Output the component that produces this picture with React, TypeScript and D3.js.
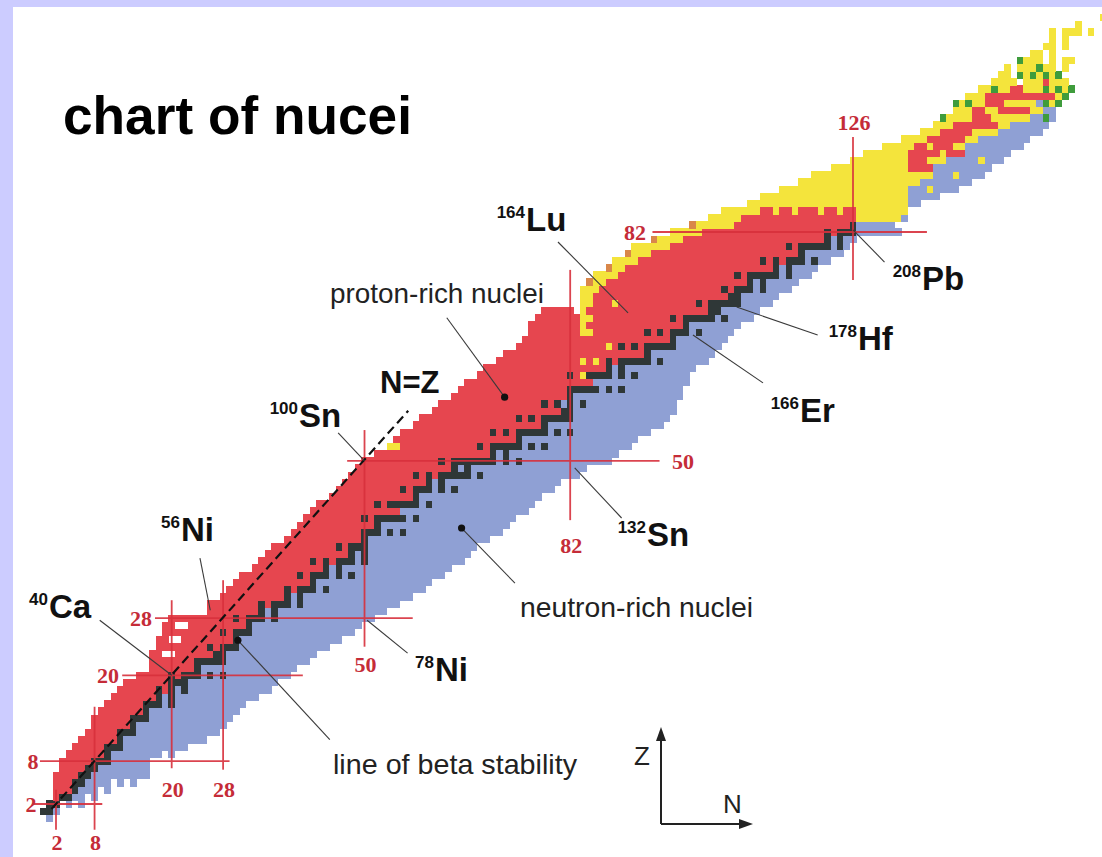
import * as d3 from 'd3';

// lightest / heaviest known neutron number for Z = 0..82
const firstN = [
  1, 0, 1, 2, 2, 2, 2, 3, 3, 4, 5, 6, 7, 8, 8, 9, 10, 11, 12, 13,
  15, 17, 17, 17, 18, 18, 19, 19, 20, 26, 26, 28, 29, 30, 31, 33, 34, 35, 36, 38,
  39, 40, 41, 42, 43, 45, 46, 47, 48, 49, 50, 52, 54, 55, 56, 58, 59, 61, 62, 64,
  65, 66, 68, 69, 71, 72, 74, 75, 76, 76, 77, 78, 84, 84, 84, 85, 86, 88, 89, 91,
  92, 95, 98,
];
const lastN = [
  1, 2, 6, 8, 10, 14, 16, 16, 16, 20, 22, 25, 27, 28, 29, 30, 31, 33, 35, 36,
  38, 39, 41, 42, 44, 46, 48, 49, 51, 53, 55, 57, 59, 60, 62, 63, 65, 66, 67, 69,
  71, 72, 73, 75, 76, 77, 79, 80, 83, 84, 88, 89, 91, 92, 94, 96, 97, 98, 98, 99,
  99, 100, 100, 101, 103, 104, 105, 106, 107, 108, 110, 111, 113, 114, 116, 117, 119, 120, 122, 124,
  125, 126, 133,
];

// stable neutron numbers for Z = 0..82
const stableN: number[][] = [
  [], [0, 1], [1, 2], [3, 4], [5], [5, 6], [6, 7], [7, 8], [8, 9, 10], [10],
  [10, 11, 12], [12], [12, 13, 14], [14], [14, 15, 16], [16], [16, 17, 18, 20], [18, 20], [18, 20, 22], [20, 21, 22],
  [20, 22, 23, 24, 26, 28], [24], [24, 25, 26, 27, 28], [27, 28], [26, 28, 29, 30], [30], [28, 30, 31, 32], [32], [30, 32, 33, 34, 36], [34, 36],
  [34, 36, 37, 38, 40], [38, 40], [38, 40, 41, 42, 44], [42], [40, 42, 43, 44, 46, 48], [44, 46], [42, 44, 46, 47, 48, 50], [48, 50], [46, 48, 49, 50], [50],
  [50, 51, 52, 54, 56], [52], [50, 52, 53, 54, 55, 56, 58], [], [52, 54, 55, 56, 57, 58, 60], [58], [56, 58, 59, 60, 62, 64], [60, 62], [58, 60, 62, 63, 64, 65, 66, 68], [64, 66],
  [62, 64, 65, 66, 67, 68, 69, 70, 72, 74], [70, 72], [68, 70, 71, 72, 73, 74, 76, 78], [74], [70, 72, 74, 75, 76, 77, 78, 80, 82], [78], [74, 76, 78, 79, 80, 81, 82], [81, 82], [78, 80, 82, 84], [82],
  [82, 83, 84, 85, 86, 88, 90], [], [82, 85, 86, 87, 88, 90, 92], [88, 90], [88, 90, 91, 92, 93, 94, 96], [94], [90, 92, 94, 95, 96, 97, 98], [98], [94, 96, 98, 99, 100, 102], [100],
  [98, 100, 101, 102, 103, 104, 106], [104, 105], [102, 104, 105, 106, 107, 108], [107, 108], [106, 108, 109, 110, 112], [110, 112], [108, 110, 111, 112, 113, 114, 116], [114, 116], [112, 114, 116, 117, 118, 120], [118],
  [116, 118, 119, 120, 121, 122, 124], [122, 124], [122, 124, 125, 126],
];

// rows without a stable isotope: [Z, last beta+ N]
const noStableSplit = [[0, -1], [43, 55], [61, 85]];

// alpha emitters [Z, from N, to N]
const alphaRuns = [
  [52, 54, 55], [62, 84, 84], [64, 84, 84], [64, 86, 86], [66, 88, 88], [72, 89, 89],
  [68, 84, 85], [69, 84, 84], [70, 84, 85], [71, 84, 84], [72, 84, 85], [73, 84, 85],
  [74, 84, 86], [75, 86, 87], [76, 86, 89], [77, 89, 90], [78, 89, 92], [79, 92, 94],
  [80, 92, 97], [81, 96, 99], [82, 98, 102],
];
// proton emitters
const protonRuns = [[75, 85, 85], [77, 88, 88], [79, 91, 91], [81, 95, 95], [83, 101, 101]];
// unknown holes
const gapRuns = [
  [2, 3, 3], [2, 5, 5], [3, 7, 7], [4, 9, 9], [5, 11, 11], [5, 13, 13], [9, 19, 19],
  [23, 19, 20], [25, 20, 21], [27, 21, 22], [71, 83, 83],
];

// heavy elements: [Z, first N, runs] y=alpha r=beta+ b=beta- k=stable g=fission w=hole
const heavyRows: [number, number, string][] = [
  [83, 101, 'y7r18k1b6'],
  [84, 104, 'y5r18y7b1'],
  [85, 106, 'y6r2y1r2y1r3y1r2y1r2y8'],
  [86, 110, 'y25b2'],
  [87, 112, 'y23b5'],
  [88, 115, 'y20b3y1b4'],
  [89, 118, 'y19b8'],
  [90, 120, 'y19b3y1b4'],
  [91, 123, 'y12r4b9'],
  [92, 126, 'y9r3y3b5y1b3'],
  [93, 128, 'y7r5y1r3b7'],
  [94, 131, 'y5r2y1r3y2b9'],
  [95, 134, 'y4r6y2b8'],
  [96, 137, 'y3r5y4b7'],
  [97, 139, 'y3r7y2b6'],
  [98, 140, 'g1y4r3y6b2g1b1'],
  [99, 142, 'y3r2y2r5y2b2'],
  [100, 142, 'g1y1g1y2r3y5b1g1y1g1'],
  [101, 144, 'y3r11y1g1'],
  [102, 146, 'y2g1y2r2y3g1y1g1y1g1'],
  [103, 148, 'y4w1y3r1y3'],
  [104, 149, 'y2w1g1y1g1y1g1y1g1'],
  [105, 150, 'y1w1y3g1y2w1y1'],
  [106, 152, 'g1y3w1y1w1y2'],
  [107, 154, 'y2w1y1'],
  [108, 156, 'y2w1y1'],
  [109, 157, 'y1w1y1'],
  [110, 157, 'y1w1y3w1y1'],
  [111, 161, 'y1'],
  [112, 165, 'y1'],
];

const magicNumbers = [2, 8, 20, 28, 50, 82, 126];

const cellColor: Record<string, string> = {
  r: '#e6464f',
  b: '#8fa0d4',
  k: '#2f3737',
  y: '#f4e43c',
  g: '#3f9c3c',
  o: '#d9874a',
};

type Cell = { z: number; n: number; c: string };

function buildCells(): Cell[] {
  const map = new Map<string, Cell>();
  const put = (z: number, n: number, c: string) => map.set(z + ':' + n, { z, n, c });
  firstN.forEach((n0, z) => {
    const st = stableN[z] || [];
    const ov = noStableSplit.find((d) => d[0] === z);
    const mid = st.length ? (st[0] + st[st.length - 1]) / 2 : (ov ? ov[1] + 0.5 : 0);
    for (let n = n0; n <= lastN[z]; n++) {
      if (st.includes(n)) put(z, n, 'k');
      else put(z, n, n < mid ? 'r' : 'b');
    }
  });
  heavyRows.forEach(([z, n0, runs]) => {
    let n = n0;
    for (const m of runs.matchAll(/([a-z])(\d+)/g)) {
      const len = +m[2];
      for (let i = 0; i < len; i++, n++) if (m[1] !== 'w') put(z, n, m[1]);
    }
  });
  alphaRuns.forEach(([z, a, b]) => { for (let n = a; n <= b; n++) put(z, n, 'y'); });
  protonRuns.forEach(([z, a, b]) => { for (let n = a; n <= b; n++) put(z, n, 'o'); });
  gapRuns.forEach(([z, a, b]) => { for (let n = a; n <= b; n++) map.delete(z + ':' + n); });
  return Array.from(map.values());
}

const SANS = 'Liberation Sans, Arial, Helvetica, sans-serif';
const SERIF = 'Liberation Serif, Times New Roman, serif';

export default function App() {
  const x = d3.scaleLinear().domain([2, 126]).range([56, 853]);
  const y = d3.scaleLinear().domain([2, 82]).range([804, 232]);
  const cells = buildCells();
  const cw = x(1) - x(0);
  const ch = y(0) - y(1);

  // magic number lines: extent along the other axis
  const nLines = [
    { z0: -1.6, z1: 4, ly: 850 },
    { z0: -1.6, z1: 15.6, ly: 850 },
    { z0: 7, z1: 30.5, ly: 797 },
    { z0: 6.8, z1: 33.3, ly: 797 },
    { z0: 24, z1: 54.3, ly: 672 },
    { z0: 41.7, z1: 76.7, ly: 553 },
    { z0: 75.3, z1: 95.3, ly: 130 },
  ];
  const zLines = [
    { n0: -1.6, n1: 9.2, lx: 31 },
    { n0: -0.5, n1: 29, lx: 33 },
    { n0: 12.3, n1: 40.4, lx: 108 },
    { n0: 17.4, n1: 57.5, lx: 141 },
    { n0: 47.3, n1: 95.9, lx: 683 },
    { n0: 94.8, n1: 137.5, lx: 635 },
  ];

  const leaders = [
    { a: [8.8, 27.7], b: [20, 20] },
    { a: [24.4, 36.4], b: [26, 29.1] },
    { a: [45.9, 53.9], b: [50, 50] },
    { a: [62.8, 70], b: [71.8, 58.9], dot: 'b' },
    { a: [80.1, 80.6], b: [91, 70.7] },
    { a: [107.9, 71.5], b: [120.5, 67.6] },
    { a: [101.1, 67.6], b: [112, 60.9] },
    { a: [82.7, 49], b: [90, 42] },
    { a: [65.1, 40.6], b: [73.4, 32.9], dot: 'a' },
    { a: [50.4, 27.7], b: [56.7, 23.1] },
    { a: [30.3, 24.9], b: [44.6, 11], dot: 'a' },
    { a: [126, 82.3], b: [130.9, 77.8] },
  ];

  const nuclides = [
    { mass: '40', sym: 'Ca', x: 49, y: 618 },
    { mass: '56', sym: 'Ni', x: 181, y: 541 },
    { mass: '100', sym: 'Sn', x: 299, y: 427 },
    { mass: '78', sym: 'Ni', x: 435, y: 681 },
    { mass: '132', sym: 'Sn', x: 647, y: 546 },
    { mass: '166', sym: 'Er', x: 800, y: 422 },
    { mass: '178', sym: 'Hf', x: 858, y: 350 },
    { mass: '208', sym: 'Pb', x: 922, y: 290 },
    { mass: '164', sym: 'Lu', x: 526, y: 231 },
  ];

  return (
    <div style={{ position: 'absolute', left: 0, top: 0 }}>
      <svg width={1102} height={857} style={{ display: 'block' }}>
        <rect width={1102} height={857} fill="#ccccff" />
        <rect x={13} y={7} width={1089} height={850} fill="#ffffff" />

        <text x={63} y={134} fontFamily={SANS} fontWeight="bold" fontSize={53}
          textLength={349} lengthAdjust="spacingAndGlyphs" fill="#000">chart of nucei</text>

        <g shapeRendering="crispEdges">
          {cells.map((c) => (
            <rect key={c.z + '-' + c.n} x={x(c.n - 0.5)} y={y(c.z + 0.5)}
              width={cw + 0.4} height={ch + 0.4} fill={cellColor[c.c]} />
          ))}
        </g>

        {/* magic numbers */}
        <g stroke="#d8303c" strokeWidth={1.8} opacity={0.9}>
          {magicNumbers.map((m, i) => (
            <line key={'v' + m} x1={x(m)} x2={x(m)} y1={y(nLines[i].z0)} y2={y(nLines[i].z1)} />
          ))}
          {magicNumbers.slice(0, 6).map((m, i) => (
            <line key={'h' + m} y1={y(m)} y2={y(m)} x1={x(zLines[i].n0)} x2={x(zLines[i].n1)} />
          ))}
        </g>
        <g fill="#c52c38" fontFamily={SERIF} fontWeight="bold" fontSize={22} textAnchor="middle">
          {magicNumbers.map((m, i) => (
            <text key={'vl' + m} x={x(m) + 1} y={nLines[i].ly}>{m}</text>
          ))}
          {magicNumbers.slice(0, 6).map((m, i) => (
            <text key={'hl' + m} x={zLines[i].lx} y={y(m) + 8}>{m}</text>
          ))}
        </g>

        {/* N = Z line */}
        <line x1={x(1.3)} y1={y(1.3)} x2={x(56.8)} y2={y(57)} stroke="#111" strokeWidth={2.2} strokeDasharray="9 5" />

        {/* leaders */}
        <g stroke="#3a3a3a" strokeWidth={1.1}>
          {leaders.map((l, i) => (
            <line key={i} x1={x(l.a[0])} y1={y(l.a[1])} x2={x(l.b[0])} y2={y(l.b[1])} />
          ))}
        </g>
        <g fill="#111">
          {leaders.filter((l) => l.dot).map((l, i) => {
            const p = l.dot === 'a' ? l.a : l.b;
            return <circle key={i} cx={x(p[0])} cy={y(p[1])} r={3.6} />;
          })}
        </g>

        <g fontFamily={SANS} fontWeight="bold" fill="#111">
          {nuclides.map((d) => (
            <g key={d.mass + d.sym}>
              <text x={d.x - 1} y={d.y - 13} fontSize={17} textAnchor="end">{d.mass}</text>
              <text x={d.x} y={d.y} fontSize={33}>{d.sym}</text>
            </g>
          ))}
          <text x={380} y={393} fontSize={31}>N=Z</text>
        </g>

        <g fontFamily={SANS} fill="#222" fontSize={28}>
          <text x={330} y={303} textLength={214} lengthAdjust="spacingAndGlyphs">proton-rich nuclei</text>
          <text x={520} y={617} textLength={233} lengthAdjust="spacingAndGlyphs">neutron-rich nuclei</text>
          <text x={333} y={774} textLength={244} lengthAdjust="spacingAndGlyphs">line of beta stability</text>
          <text x={634} y={765} fontSize={26}>Z</text>
          <text x={723} y={813} fontSize={26}>N</text>
        </g>

        {/* compass */}
        <g stroke="#222" strokeWidth={2} fill="#222">
          <line x1={661} y1={824} x2={661} y2={738} />
          <line x1={661} y1={824} x2={742} y2={824} />
          <path d="M661,727 L656,741 L666,741 Z" stroke="none" />
          <path d="M753,824 L739,819 L739,829 Z" stroke="none" />
        </g>
      </svg>
    </div>
  );
}
